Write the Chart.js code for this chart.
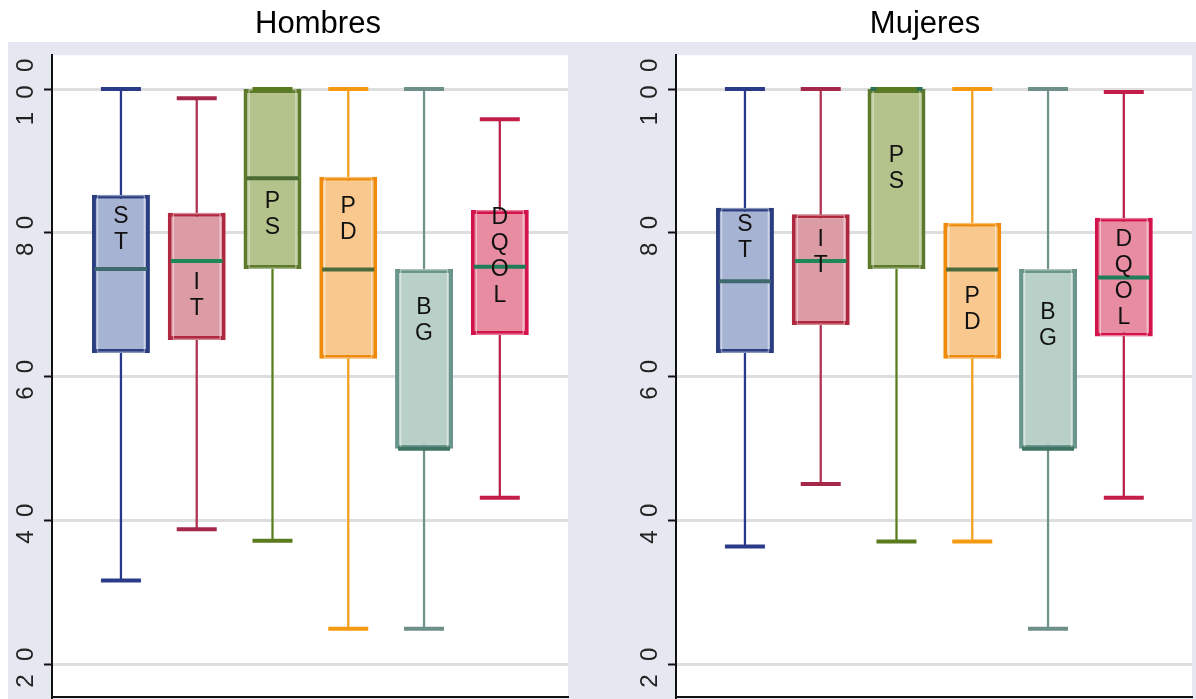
<!DOCTYPE html>
<html lang="es">
<head>
<meta charset="UTF-8">
<title>Hombres / Mujeres</title>
<script src="https://cdn.jsdelivr.net/npm/chart.js"></script>
<style>
  html, body { margin: 0; padding: 0; background: #fff; overflow: hidden; }
  .page { position: relative; width: 1196px; height: 699px; overflow: hidden; }
  .frame { position: absolute; left: 8px; top: 42px; right: 0; bottom: 0; background: #e5e8f1; }
  canvas { position: absolute; top: 0; }
  #chartH { left: 0; }
  #chartM { left: 624px; }
</style>
</head>
<body>
<div class="page">
  <div class="frame"></div>
  <canvas id="chartH" width="636" height="699"></canvas>
  <canvas id="chartM" width="602" height="699"></canvas>
</div>
<script>
// data
const categories = ['ST', 'IT', 'PS', 'PD', 'BG', 'DQOL'];
const yTicks = [20, 40, 60, 80, 100];

const hombresMin    = [31.7, 38.8, 37.2, 25.0, 25.0, 43.2];
const hombresQ1     = [63.3, 65.1, 75.0, 62.5, 50.0, 65.8];
const hombresMedian = [75.0, 76.1, 87.6, 74.9, 50.0, 75.3];
const hombresQ3     = [85.3, 82.8, 100, 87.8, 75.0, 83.2];
const hombresMax    = [100, 98.7, 100, 100, 100, 95.8];
const hombresLabelY = [82.2, 73.1, 84.3, 83.6, 69.6, 82.1];

const mujeresMin    = [36.4, 45.1, 37.1, 37.1, 25.0, 43.2];
const mujeresQ1     = [63.3, 67.2, 75.0, 62.5, 50.0, 65.6];
const mujeresMedian = [73.3, 76.1, 100, 74.9, 50.0, 73.8];
const mujeresQ3     = [83.5, 82.6, 100, 81.4, 75.0, 82.1];
const mujeresMax    = [100, 100, 100, 100, 100, 99.6];
const mujeresLabelY = [81.1, 79.0, 90.8, 71.1, 68.9, 79.0];

// colours
const fillColors = ['#a7b3d3', '#dc9ca6', '#b4c38c', '#f8c88f', '#b9d0c8', '#e88ca2'];
const borderColors = ['#2b3e82', '#b0283f', '#5d7a2c', '#f08a0a', '#6a958a', '#d3144a'];
const whiskerColors = ['#27388c', '#b0304f', '#5a7f1a', '#f2a020', '#6f9289', '#b8214a'];
const capColors = ['#2a3b8a', '#a3284a', '#5a7a1e', '#f59a10', '#6e8f88', '#c41d4a'];
const hombresMedianColors = ['#3e6a6e', '#1f8656', '#4a6b34', '#4d6a3c', '#3f7466', '#1f7d5a'];
const mujeresMedianColors = ['#3e6a6e', '#1f8656', '#2d7052', '#4d6a3c', '#3f7466', '#1f7d5a'];

const FONT = '"Liberation Sans", Arial, sans-serif';

const plotBackground = {
  id: 'plotBackground',
  beforeDraw(chart) {
    const { ctx, chartArea: a } = chart;
    ctx.save();
    ctx.fillStyle = '#fff';
    ctx.fillRect(a.left, a.top, a.right - a.left, a.bottom - a.top);
    ctx.restore();
  }
};

function boxLetters(labelY) {
  return {
    id: 'boxLetters',
    afterDatasetsDraw(chart) {
      const { ctx, scales: { x, y } } = chart;
      ctx.save();
      ctx.font = '23px ' + FONT;
      ctx.fillStyle = '#111';
      ctx.textAlign = 'center';
      ctx.textBaseline = 'middle';
      categories.forEach((cat, i) => {
        const px = x.getPixelForValue(i + 1);
        const py = y.getPixelForValue(labelY[i]);
        cat.split('').forEach((ch, k) => ctx.fillText(ch, px, py + k * 26));
      });
      ctx.restore();
    }
  };
}

function makeChart(id, title, s, padRight) {
  const xs = categories.map((c, i) => i + 1);
  const boxData = xs.map((x, i) => ({ x, y: [s.q1[i], s.q3[i]] }));
  return new Chart(document.getElementById(id), {
    type: 'bar',
    data: {
      datasets: [
        {
          label: 'bigote',
          data: xs.map((x, i) => ({ x, y: [s.min[i], s.max[i]] })),
          backgroundColor: whiskerColors,
          borderWidth: 0,
          grouped: false,
          categoryPercentage: 1,
          barPercentage: 0.03,
          xAxisID: 'x', yAxisID: 'y',
          order: 5
        },
        {
          label: 'caja',
          data: boxData,
          backgroundColor: fillColors,
          borderColor: borderColors,
          borderWidth: 4,
          borderSkipped: false,
          grouped: false,
          categoryPercentage: 1,
          barPercentage: 0.765,
          xAxisID: 'x', yAxisID: 'y',
          order: 4
        },
        {
          label: 'borde interior',
          data: boxData,
          backgroundColor: 'rgba(0,0,0,0)',
          borderColor: 'rgba(255,255,255,0.45)',
          borderWidth: 1.5,
          borderSkipped: false,
          grouped: false,
          categoryPercentage: 1,
          barPercentage: 0.64,
          xAxisID: 'x', yAxisID: 'y',
          order: 3
        },
        {
          type: 'scatter',
          label: 'mediana',
          data: xs.map((x, i) => ({ x, y: s.median[i] })),
          pointStyle: 'line',
          pointRadius: 26,
          pointBorderWidth: 4,
          pointBorderColor: s.medianColors,
          xAxisID: 'x', yAxisID: 'y',
          order: 2
        },
        {
          type: 'scatter',
          label: 'extremos',
          data: xs.flatMap((x, i) => [{ x, y: s.min[i] }, { x, y: s.max[i] }]),
          pointStyle: 'line',
          pointRadius: 20,
          pointBorderWidth: 4,
          pointBorderColor: capColors.flatMap(c => [c, c]),
          xAxisID: 'x', yAxisID: 'y',
          order: 1
        }
      ]
    },
    options: {
      responsive: false,
      animation: false,
      events: [],
      layout: { padding: 0, autoPadding: false },
      plugins: {
        legend: { display: false },
        tooltip: { enabled: false },
        title: {
          display: true,
          text: title,
          color: '#000',
          font: { size: 31, family: FONT, weight: 'normal' },
          padding: { top: 6, bottom: 12 }
        }
      },
      scales: {
        x: {
          type: 'linear',
          offset: false,
          min: 0.09,
          max: 6.9,
          ticks: { display: false, stepSize: 1, includeBounds: false },
          grid: { display: false, offset: false },
          border: { display: true, color: '#111', width: 2 },
          afterFit: a => { a.height = 2; a.paddingLeft = 0; a.paddingRight = 0; }
        },
        y: {
          type: 'linear',
          position: 'left',
          min: 15.5,
          max: 104.7,
          afterBuildTicks: a => { a.ticks = yTicks.map(v => ({ value: v })); },
          ticks: {
            callback: v => String(v).split('').join('  '),
            minRotation: 90,
            maxRotation: 90,
            crossAlign: 'center',
            padding: -16,
            labelOffset: 3,
            color: '#222',
            font: { size: 24, family: FONT }
          },
          grid: { color: '#dedede', lineWidth: 3, tickColor: '#111', tickWidth: 2, tickLength: 8 },
          border: { display: true, color: '#111', width: 2 },
          afterFit: a => { a.width = 52; a.paddingTop = 0; a.paddingBottom = 0; }
        },
        pad: {
          type: 'linear',
          position: 'right',
          display: true,
          ticks: { display: false },
          grid: { display: false, drawTicks: false },
          border: { display: false },
          afterFit: a => { a.width = padRight; a.paddingTop = 0; a.paddingBottom = 0; }
        }
      }
    },
    plugins: [plotBackground, boxLetters(s.labelY)]
  });
}

makeChart('chartH', 'Hombres', {
  min: hombresMin, q1: hombresQ1, median: hombresMedian, q3: hombresQ3, max: hombresMax,
  labelY: hombresLabelY, medianColors: hombresMedianColors
}, 68);

makeChart('chartM', 'Mujeres', {
  min: mujeresMin, q1: mujeresQ1, median: mujeresMedian, q3: mujeresQ3, max: mujeresMax,
  labelY: mujeresLabelY, medianColors: mujeresMedianColors
}, 34);
</script>
</body>
</html>
